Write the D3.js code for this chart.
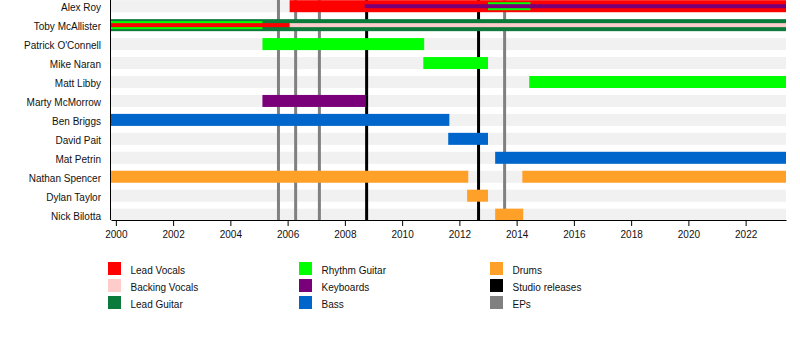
<!DOCTYPE html>
<html>
<head>
<meta charset="utf-8">
<script src="https://cdn.jsdelivr.net/npm/d3@7"></script>
<style>
  html, body { margin: 0; padding: 0; background: #ffffff; }
  svg { display: block; font-family: "Liberation Sans", Arial, sans-serif; }
</style>
</head>
<body>
<svg id="chart" width="800" height="340"></svg>
<script>
// ---------- DATA ----------
const members = ["Alex Roy", "Toby McAllister", "Patrick O'Connell", "Mike Naran", "Matt Libby",
  "Marty McMorrow", "Ben Briggs", "David Pait", "Mat Petrin", "Nathan Spencer", "Dylan Taylor", "Nick Bilotta"];

const periodStart = 1999.83;
const periodEnd = 2023.41;

const roles = ["Lead Vocals", "Backing Vocals", "Lead Guitar", "Rhythm Guitar", "Keyboards", "Bass", "Drums"];
const roleColors = ["#ff0000", "#ffcccc", "#0b7a3b", "#00ff00", "#7a007a", "#0066cc", "#ffa128"];

// bars: member, role, start, end, layer (0 = full, 1 = medium, 2 = thin)
const barMembers = ["Alex Roy", "Alex Roy", "Alex Roy",
  "Toby McAllister", "Toby McAllister", "Toby McAllister", "Toby McAllister",
  "Patrick O'Connell", "Mike Naran", "Matt Libby", "Marty McMorrow",
  "Ben Briggs", "David Pait", "Mat Petrin",
  "Nathan Spencer", "Nathan Spencer", "Dylan Taylor", "Nick Bilotta"];
const barRoles = ["Lead Vocals", "Rhythm Guitar", "Keyboards",
  "Lead Guitar", "Rhythm Guitar", "Lead Vocals", "Backing Vocals",
  "Rhythm Guitar", "Rhythm Guitar", "Rhythm Guitar", "Keyboards",
  "Bass", "Bass", "Bass",
  "Drums", "Drums", "Drums", "Drums"];
const barStarts = [2006.07, 2013.0, 2008.69,
  periodStart, periodStart, periodStart, 2006.07,
  2005.12, 2010.74, 2014.44, 2005.12,
  periodStart, 2011.61, 2013.25,
  periodStart, 2014.2, 2012.27, 2013.25];
const barEnds = [periodEnd, 2014.48, periodEnd,
  periodEnd, 2005.12, 2006.07, periodEnd,
  2010.77, 2013.0, periodEnd, 2008.73,
  2011.65, 2013.0, periodEnd,
  2012.31, periodEnd, 2013.0, 2014.23];
const barLayers = [0, 1, 2,
  0, 1, 2, 2,
  0, 0, 0, 0,
  0, 0, 0,
  0, 0, 0, 0];

const studioReleases = [2008.76, 2012.67];
const epReleases = [2005.68, 2006.28, 2007.11, 2013.58];

const tickYears = [2000, 2002, 2004, 2006, 2008, 2010, 2012, 2014, 2016, 2018, 2020, 2022];

const legendLabels = ["Lead Vocals", "Backing Vocals", "Lead Guitar", "Rhythm Guitar", "Keyboards", "Bass",
  "Drums", "Studio releases", "EPs"];
const legendColors = ["#ff0000", "#ffcccc", "#0b7a3b", "#00ff00", "#7a007a", "#0066cc",
  "#ffa128", "#000000", "#808080"];

// ---------- CHART ----------
const svg = d3.select("#chart");
const plotLeft = 111, plotRight = 786, axisY = 220;

const x = d3.scaleLinear().domain([periodStart, periodEnd]).range([plotLeft, plotRight]);
const y = d3.scalePoint().domain(members).range([6.2, 6.2 + 18.95 * (members.length - 1)]);
const color = d3.scaleOrdinal().domain(roles).range(roleColors);
const layerHeight = [12, 8, 4];

// background stripes
svg.append("g").selectAll("rect").data(members).join("rect")
  .attr("x", plotLeft).attr("width", plotRight - plotLeft)
  .attr("y", d => y(d) - 6).attr("height", 12)
  .attr("fill", "#f1f1f1");

// release lines
svg.append("g").selectAll("line").data(epReleases).join("line")
  .attr("x1", d => x(d)).attr("x2", d => x(d))
  .attr("y1", 0).attr("y2", axisY)
  .attr("stroke", "#808080").attr("stroke-width", 3);
svg.append("g").selectAll("line").data(studioReleases).join("line")
  .attr("x1", d => x(d)).attr("x2", d => x(d))
  .attr("y1", 0).attr("y2", axisY)
  .attr("stroke", "#000000").attr("stroke-width", 3);

// bars
const bars = barMembers.map((m, i) => ({
  member: m, role: barRoles[i], start: barStarts[i], end: barEnds[i], layer: barLayers[i]
})).sort((a, b) => a.layer - b.layer);

svg.append("g").selectAll("rect").data(bars).join("rect")
  .attr("x", d => x(d.start))
  .attr("width", d => x(d.end) - x(d.start))
  .attr("y", d => y(d.member) - layerHeight[d.layer] / 2)
  .attr("height", d => layerHeight[d.layer])
  .attr("fill", d => color(d.role));

// member labels
svg.append("g").selectAll("text").data(members).join("text")
  .attr("x", 101).attr("y", d => y(d) + 1.5)
  .attr("dy", "0.35em")
  .attr("text-anchor", "end")
  .attr("font-size", 10)
  .attr("fill", "#111")
  .text(d => d);

// left border line
svg.append("line")
  .attr("x1", plotLeft - 0.5).attr("x2", plotLeft - 0.5)
  .attr("y1", 0).attr("y2", axisY)
  .attr("stroke", "#000").attr("stroke-width", 1);

// axis
const axis = d3.axisBottom(x).tickValues(tickYears).tickFormat(d3.format("d"))
  .tickSize(6).tickSizeOuter(0);
const ax = svg.append("g").attr("transform", `translate(0,${axisY})`).call(axis);
ax.select(".domain").attr("stroke", "#000").attr("stroke-width", 1.2);
ax.selectAll(".tick line").attr("stroke", "#000");
ax.selectAll(".tick text")
  .attr("font-size", 10)
  .attr("font-family", "\"Liberation Sans\", Arial, sans-serif")
  .attr("fill", "#111")
  .attr("y", 11);

// legend
const legendColX = [108, 299, 490];
const legendRowY = [262, 279, 296];
const legend = svg.append("g").selectAll("g").data(legendLabels).join("g")
  .attr("transform", (d, i) => `translate(${legendColX[Math.floor(i / 3)]},${legendRowY[i % 3]})`);
legend.append("rect")
  .attr("width", 13).attr("height", 13)
  .attr("fill", (d, i) => legendColors[i]);
legend.append("text")
  .attr("x", 22.5).attr("y", 8.3)
  .attr("dy", "0.35em")
  .attr("font-size", 10)
  .attr("fill", "#111")
  .text(d => d);
</script>
</body>
</html>
